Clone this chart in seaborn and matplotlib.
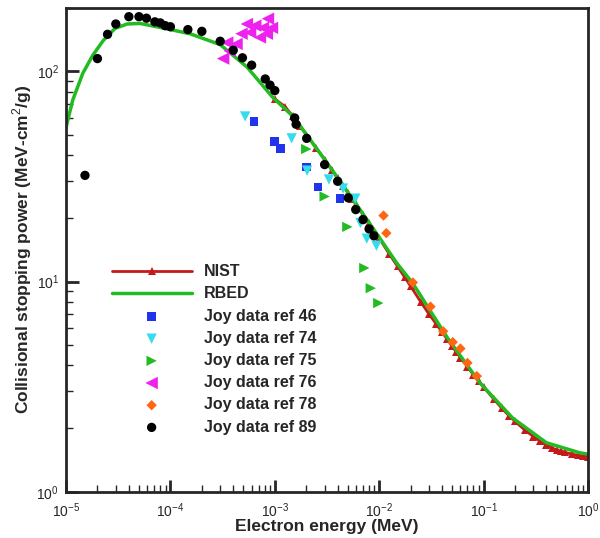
import numpy as np
import pandas as pd
import seaborn as sns
import matplotlib
matplotlib.use("Agg")
import matplotlib.pyplot as plt
from matplotlib.ticker import LogLocator, NullFormatter

# RBED model curve
rbed_e = [1e-5, 1.16e-5, 1.45e-5, 1.8e-5, 2.27e-5, 2.95e-5, 3.85e-5, 5.1e-5, 7.9e-5,
          1.54e-4, 3e-4, 5.4e-4, 9.6e-4, 1.5e-3, 2.9e-3, 5.6e-3, 1.02e-2, 1.48e-2,
          2.1e-2, 4.5e-2, 9.2e-2, 0.19, 0.40, 0.84, 1.0]
rbed_s = [54, 73, 98, 119, 140, 160, 168, 169, 162, 151, 134, 105, 75, 61, 39, 24.6,
          16, 12.2, 9.8, 5.4, 3.3, 2.24, 1.71, 1.53, 1.51]

# NIST (ESTAR grid)
nist_e = [0.001, 0.00125, 0.0015, 0.00175, 0.002, 0.0025, 0.003, 0.0035, 0.004, 0.0045,
          0.005, 0.0055, 0.006, 0.007, 0.008, 0.009, 0.01, 0.0125, 0.015, 0.0175, 0.02,
          0.025, 0.03, 0.035, 0.04, 0.045, 0.05, 0.055, 0.06, 0.07, 0.08, 0.09, 0.1,
          0.125, 0.15, 0.175, 0.2, 0.25, 0.3, 0.35, 0.4, 0.45, 0.5, 0.55, 0.6, 0.7,
          0.8, 0.9, 1.0]
nist_s = [74, 68, 61, 55, 50, 43, 38, 34, 31, 28.5, 26.5, 24.8, 23.3, 20.8, 18.9, 17.4,
          16.1, 13.5, 11.8, 10.5, 9.5, 8.0, 7.0, 6.3, 5.75, 5.3, 4.92, 4.6, 4.35, 3.93,
          3.6, 3.35, 3.15, 2.76, 2.49, 2.3, 2.16, 1.96, 1.83, 1.74, 1.67, 1.62, 1.58,
          1.56, 1.54, 1.51, 1.49, 1.48, 1.47]

# Joy database points
ref46_e = [6.3e-4, 9.9e-4, 1.14e-3, 2.0e-3, 2.6e-3, 4.2e-3]
ref46_s = [57.7, 46.4, 43, 35, 28.2, 24.8]

ref74_e = [5.2e-4, 1.45e-3, 2.04e-3, 3.3e-3, 4.5e-3, 5.9e-3, 6.6e-3, 7.6e-3, 9.4e-3]
ref74_s = [61, 48, 33.7, 30.6, 27.7, 24.8, 19, 16, 14.8]

ref75_e = [2.0e-3, 3.0e-3, 4.95e-3, 7.2e-3, 8.3e-3, 9.8e-3]
ref75_s = [42.7, 25.4, 18.2, 11.6, 9.3, 7.9]

ref76_e = [3.2e-4, 3.5e-4, 3.7e-4, 4.3e-4, 4.8e-4, 5.4e-4, 5.8e-4, 6.5e-4, 7.2e-4,
           7.7e-4, 8.4e-4, 8.6e-4, 9.4e-4]
ref76_s = [115, 137, 125, 135, 151, 168, 153, 165, 145, 161, 151, 178, 161]

ref78_e = [1.1e-2, 1.17e-2, 2.1e-2, 3.1e-2, 4.1e-2, 5.06e-2, 6.0e-2, 7.0e-2, 8.6e-2]
ref78_s = [20.6, 17, 9.9, 7.6, 5.8, 5.15, 4.8, 4.1, 3.55]

ref89_e = [1.52e-5, 2.0e-5, 2.5e-5, 3.0e-5, 4.0e-5, 5.0e-5, 5.9e-5, 7.1e-5, 8.0e-5,
           8.9e-5, 1.0e-4, 1.47e-4, 2.0e-4, 3.0e-4, 4.0e-4, 4.9e-4, 6.0e-4, 8.1e-4,
           9.0e-4, 1.0e-3, 1.55e-3, 1.6e-3, 2.02e-3, 3.0e-3, 4.0e-3, 5.06e-3, 5.96e-3,
           7.0e-3, 8.0e-3, 8.9e-3]
ref89_s = [32, 115, 150, 168, 182, 182, 179, 172, 170, 165, 163, 158, 155, 139, 126,
           116, 107, 92, 86, 81, 60, 56, 48, 36, 30, 25, 22, 19.7, 17.8, 16.5]

sns.set_style("ticks")
plt.rcParams["font.family"] = ["Liberation Sans", "DejaVu Sans"]
plt.rcParams["mathtext.fontset"] = "custom"
plt.rcParams["mathtext.rm"] = "Liberation Sans"

fig = plt.figure(figsize=(6, 5.38), dpi=100)
ax = fig.add_axes([0.11, 0.086, 0.87, 0.899])

sns.lineplot(x=nist_e, y=nist_s, ax=ax, color="#c41a1a", lw=2, marker="^",
             markersize=5.5, markeredgewidth=0, label="NIST", sort=False)
sns.lineplot(x=rbed_e, y=rbed_s, ax=ax, color="#22bb22", lw=2.5, label="RBED", sort=False)

pts = [
    (ref46_e, ref46_s, "s", "#2233ee", 38, "Joy data ref 46"),
    (ref74_e, ref74_s, "v", "#33ddee", 55, "Joy data ref 74"),
    (ref75_e, ref75_s, ">", "#22bb22", 55, "Joy data ref 75"),
    (ref76_e, ref76_s, "<", "#ee22ee", 80, "Joy data ref 76"),
    (ref78_e, ref78_s, "D", "#ff6611", 28, "Joy data ref 78"),
    (ref89_e, ref89_s, "o", "black", 45, "Joy data ref 89"),
]
for e, s, m, c, sz, lab in pts:
    sns.scatterplot(x=e, y=s, ax=ax, marker=m, color=c, s=sz, edgecolor="none",
                    label=lab, zorder=3)

ax.set_xscale("log")
ax.set_yscale("log")
ax.set_xlim(1e-5, 1)
ax.set_ylim(1, 200)

ax.xaxis.set_minor_locator(LogLocator(base=10, subs=np.arange(2, 10)))
ax.yaxis.set_minor_locator(LogLocator(base=10, subs=np.arange(2, 10)))
ax.xaxis.set_minor_formatter(NullFormatter())
ax.yaxis.set_minor_formatter(NullFormatter())
ax.tick_params(which="major", direction="in", length=9, width=2, labelsize=10)
ax.tick_params(which="minor", direction="in", length=5, width=1)
ax.tick_params(axis="x", which="major", pad=7)
ax.tick_params(axis="y", which="major", pad=5)
for sp in ax.spines.values():
    sp.set_linewidth(2)
    sp.set_visible(True)

ax.set_xlabel("Electron energy (MeV)", fontsize=12.5, fontweight="bold", labelpad=-1)
ax.set_ylabel("Collisional stopping power (MeV-cm$^2$/g)", fontsize=12.5,
              fontweight="bold", labelpad=2)

ax.legend(loc="upper left", bbox_to_anchor=(0.06, 0.50), frameon=False,
          handlelength=5, handletextpad=0.8, labelspacing=0.45,
          prop={"weight": "bold", "size": 11.5})

fig.savefig("out.png", dpi=100)
